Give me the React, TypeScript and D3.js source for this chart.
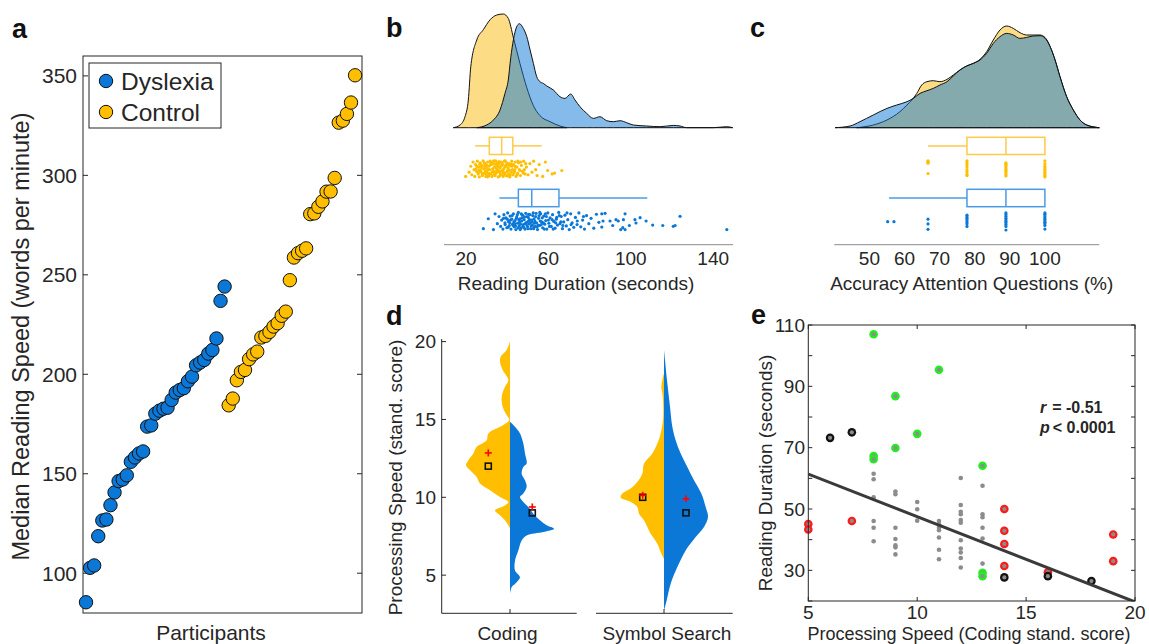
import React from 'react';
import * as d3 from 'd3';

const FONT = '"Liberation Sans", Arial, Helvetica, sans-serif';
const TXT = '#262626';
const YEL = '#FFBF00';
const BLU = '#0B78D8';
const YEL_FILL = '#FCDC85';
const YEL_BOX = '#FFC94A';
const BLU_BOX = '#4A9BE6';

// ---------- Panel a ----------
const dyslexiaSpeed = [85.4, 102.7, 103.9, 118.6, 126.5, 127, 134.2, 140.6, 146.3, 147.1, 149.2, 156, 158.2, 160.2, 161.2, 173.7, 174.3, 180.2, 181.7, 182.7, 183.2, 187.1, 190.8, 192.1, 193, 196.5, 198.8, 204.5, 205.9, 207.2, 210.4, 212.2, 218, 236.9, 244.1];
const controlSpeed = [184.4, 187.8, 197, 201.2, 202.2, 207.6, 210, 211.4, 218.5, 219.3, 221.3, 224, 225.7, 229.4, 231.5, 247.3, 258.7, 260.9, 262.1, 263.3, 280.5, 280.9, 284.2, 286.9, 291.8, 291.9, 298.7, 326.5, 327.5, 330.9, 336.6, 350.3];
const speedTicks = [100, 150, 200, 250, 300, 350];
const groupNames = ['Dyslexia', 'Control'];

// ---------- Panel b ----------
const durTicks = [20, 60, 100, 140];
const ctrlDurDensity = [[13.8, 0], [17.1, 2.7], [19.5, 11], [21.1, 27.7], [22.3, 61], [25.2, 87.7], [28.4, 98], [31.7, 108], [34.9, 112.7], [38.1, 113.7], [40.5, 109.3], [43, 90], [46.2, 64], [49.5, 40], [52.7, 22], [55.9, 12], [60.8, 6], [65.6, 1.7], [68.9, 0]];
const dysDurDensity = [[25.2, 0], [30, 2.7], [33.3, 7.7], [36.5, 17.7], [38.9, 34.3], [40.5, 47.7], [41.7, 70], [43, 88], [44.6, 101], [45.9, 104], [47.8, 99.3], [49.5, 91], [51.1, 77.7], [52.7, 64.3], [54.3, 51], [55.9, 46], [57.5, 44.3], [59.2, 41.7], [62.4, 37.7], [65.6, 31], [68.1, 29.3], [70.8, 33.7], [72.9, 27.7], [75.3, 21], [78.6, 14.3], [81.8, 9.3], [85, 11], [88.3, 7], [91.5, 6], [94.8, 7], [98, 5], [101.2, 2.7], [107.7, 1.7], [114.2, 1], [120.6, 2.3], [123.9, 1.7], [127.1, 0], [140, 0], [146.5, 1], [149.5, 0]];
// [whiskerLow, q1, median, q3, whiskerHigh]
const ctrlDurBox = [24.4, 31.3, 37.3, 42.7, 56.7];
const dysDurBox = [36.2, 45.4, 51.9, 65.1, 108];
// [value, vertical jitter -1..1]
const ctrlDurPoints = [
  [19.8, 0.9], [21.5, 0.4], [22.3, -0.3], [22.8, 0.7], [23.4, -0.8], [23.9, 0.1], [24.2, 0.9], [24.6, -0.5], [25.1, 0.3], [25.5, -0.9], [25.8, 0.6], [26.2, -0.2], [26.5, 0.95], [26.9, -0.7], [27.2, 0.2], [27.6, -0.4], [27.9, 0.8], [28.3, -0.95], [28.6, 0.0], [28.9, 0.5], [29.2, -0.6], [29.6, 0.9], [29.9, -0.1], [30.2, 0.4], [30.5, -0.8], [30.8, 0.7], [31.1, -0.3], [31.4, 0.1], [31.7, -0.9], [32.0, 0.6], [32.3, -0.5], [32.6, 0.9], [32.9, 0.0], [33.2, -0.7], [33.5, 0.3], [33.8, -0.2], [34.1, 0.8], [34.4, -0.95], [34.7, 0.5], [35.0, -0.4], [35.3, 0.1], [35.6, 0.95], [35.9, -0.6], [36.2, 0.3], [36.5, -0.1], [36.8, 0.7], [37.1, -0.8], [37.4, 0.2], [37.7, -0.5], [38.0, 0.9], [38.3, 0.0], [38.6, -0.9], [38.9, 0.5], [39.2, -0.3], [39.5, 0.8], [39.8, -0.7], [40.1, 0.2], [40.4, -0.1], [40.7, 0.6], [41.0, -0.6], [41.3, 0.95], [41.6, -0.35], [41.9, 0.4], [42.2, -0.9], [42.5, 0.1], [42.8, 0.7], [43.1, -0.5], [43.5, 0.3], [43.9, -0.8], [44.3, 0.9], [44.7, -0.2], [45.1, 0.5], [45.5, -0.7], [45.9, 0.1], [46.4, 0.8], [46.9, -0.4], [47.4, 0.3], [48.0, -0.9], [48.6, 0.6], [49.3, -0.2], [50.1, 0.7], [51.0, -0.6], [52.0, 0.4], [52.8, -0.9], [53.8, 0.1], [54.5, 0.8], [55.5, -0.5], [57.2, 0.9], [58.5, -0.8], [59.6, 0.2], [61.8, 0.6], [63.0, 0.5], [66.5, 0.2],
  [24.9, 0.0], [26.0, 0.45], [27.4, -0.15], [28.1, 0.6], [29.4, 0.25], [30.0, -0.45], [31.3, 0.55], [32.1, -0.75], [33.0, 0.35], [33.9, -0.55], [34.9, 0.15], [35.8, -0.25], [36.6, 0.5], [37.5, -0.65], [38.4, 0.65], [39.3, -0.45], [40.2, 0.85], [41.1, 0.15], [42.0, -0.55], [43.3, 0.45], [44.0, -0.25], [45.2, -0.9], [46.2, 0.2], [47.8, 0.5], [49.0, -0.6], [27.0, 0.3], [29.0, -0.3], [31.0, 0.85], [33.6, 0.65], [36.0, -0.85], [38.8, -0.2], [40.6, -0.45], [26.7, -0.55], [35.4, 0.35], [37.9, 0.25],
  [25.3, -0.3], [26.4, 0.15], [27.7, 0.5], [28.8, -0.7], [29.8, 0.6], [30.7, 0.1], [31.8, -0.5], [32.7, 0.35], [33.4, -0.95], [34.3, 0.45], [35.1, -0.7], [36.3, 0.85], [37.2, -0.35], [38.1, 0.45], [39.0, -0.95], [39.9, 0.35], [41.5, 0.7], [42.4, -0.3], [43.7, 0.1], [44.8, 0.7], [46.6, -0.8], [48.3, 0.1], [30.4, 0.95], [34.6, -0.1]
];
const dysDurPoints = [
  [28.4, 0.85], [30.8, -0.25], [33.3, 0.95], [34.1, -0.8], [35.2, 0.3], [36.0, -0.5], [36.8, 0.6], [37.3, -0.1], [37.9, 0.9], [38.4, -0.7], [38.9, 0.2], [39.3, -0.35], [39.8, 0.75], [40.2, -0.9], [40.6, 0.05], [41.0, 0.5], [41.4, -0.55], [41.8, 0.9], [42.2, -0.2], [42.6, 0.35], [43.0, -0.8], [43.4, 0.65], [43.8, -0.05], [44.2, 0.95], [44.6, -0.45], [45.0, 0.25], [45.4, -0.95], [45.8, 0.55], [46.2, -0.25], [46.6, 0.8], [47.0, 0.0], [47.4, -0.65], [47.8, 0.4], [48.2, -0.15], [48.6, 0.9], [49.0, -0.85], [49.4, 0.15], [49.8, 0.6], [50.2, -0.4], [50.6, 0.3], [51.0, -0.7], [51.4, 0.85], [51.8, -0.1], [52.2, 0.45], [52.6, -0.9], [53.0, 0.7], [53.4, 0.0], [53.8, -0.5], [54.2, 0.2], [54.7, 0.95], [55.2, -0.3], [55.7, 0.5], [56.2, -0.8], [56.7, 0.1], [57.2, 0.75], [57.7, -0.55], [58.2, 0.35], [58.7, -0.05], [59.2, 0.9], [59.7, -0.9], [60.2, 0.25], [60.8, -0.35], [61.4, 0.6], [62.0, -0.7], [62.6, 0.05], [63.2, 0.8], [63.8, -0.2], [64.4, 0.45], [65.0, -0.95], [65.6, 0.3], [66.2, -0.5], [66.8, 0.85], [67.4, 0.1], [68.0, -0.65], [68.7, 0.55], [69.4, -0.15], [70.1, 0.95], [70.8, -0.8], [71.5, 0.2], [72.3, 0.7], [73.1, -0.4], [73.9, 0.4], [74.8, -0.9], [75.7, 0.65], [76.6, -0.1], [77.5, 0.9], [78.5, -0.6], [79.6, 0.3], [80.7, -0.3], [82.0, 0.8], [83.3, -0.75], [84.5, 0.15],
  [39.0, 0.4], [40.0, -0.2], [41.2, 0.2], [42.4, -0.6], [43.2, 0.1], [44.4, -0.3], [45.2, 0.75], [46.0, 0.1], [46.8, -0.8], [47.6, 0.6], [48.4, -0.45], [49.2, 0.35], [50.0, 0.85], [50.8, -0.15], [51.6, 0.55], [52.4, -0.6], [53.2, 0.25], [54.0, -0.85], [55.0, 0.45], [56.0, 0.0], [57.0, -0.35], [58.0, 0.9], [59.0, -0.5], [60.5, 0.6], [61.8, -0.15], [63.5, 0.2], [65.3, -0.6], [67.0, 0.5], [69.0, -0.9], [71.0, 0.4], [74.0, 0.0], [77.0, -0.5], [42.9, 0.5], [44.9, -0.7], [46.4, 0.35], [48.0, 0.7], [50.4, -0.75], [52.0, 0.1], [53.6, 0.6], [55.5, -0.6], [57.5, 0.2], [40.4, 0.7], [38.2, -0.3],
  [41.6, -0.1], [43.6, 0.3], [45.6, -0.15], [47.2, -0.35], [49.6, -0.5], [51.2, 0.2], [53.0, -0.25], [54.5, 0.65], [56.5, 0.4], [58.5, -0.8], [60.0, -0.1], [62.3, 0.9], [64.0, -0.4], [66.0, 0.1], [44.0, 0.55], [46.3, 0.95], [48.8, 0.25], [50.3, 0.0], [52.8, 0.85], [55.8, -0.95],
  [85.9, -0.8], [87.5, -0.85], [86.5, 0.0], [89.9, 0.0], [92.8, -0.15], [93.9, 0.0], [91.2, 0.5], [85.9, 0.67], [95.1, 0.95], [97.2, 0.95], [96.1, 0.74], [97.2, -0.8], [96.4, -0.15], [99.3, 0.5], [102, -0.15], [102.5, 0.22], [104.5, -0.37], [107.4, 0], [110.6, 0.45], [115.5, 0.5], [120.6, 0.59], [121.5, 0.5], [123.9, -0.52], [146.6, 0.95]
];

// ---------- Panel c ----------
const accTicks = [50, 60, 70, 80, 90, 100];
const ctrlAccDensity = [[46.4, 0], [51.1, 2.7], [55, 7.7], [58.7, 16], [60.7, 22.7], [62.1, 27.7], [63.5, 34.3], [64.9, 42.7], [66.4, 46], [68.2, 47], [70.1, 46], [72.1, 48.3], [73.9, 52.7], [75.8, 57.7], [77.7, 61.7], [79.6, 64.3], [81.5, 68.3], [83.4, 76], [85.3, 87.7], [87.2, 97.7], [89.1, 101.7], [91, 99.3], [92.9, 95], [94.8, 92.7], [96.7, 92.7], [98.6, 92.7], [100.1, 90], [101.5, 81], [102.9, 67.7], [104.3, 51], [106.2, 31], [108.1, 17.7], [110, 7.7], [111.9, 2.7], [115.5, 0]];
const dysAccDensity = [[40.2, 0], [44.5, 1.7], [47.3, 6], [51.1, 12.7], [55, 19.3], [57.8, 22.7], [60.7, 26], [62.5, 29.3], [64.4, 34.3], [66.4, 37], [68.2, 39.3], [70.1, 42.7], [72.1, 46], [73.9, 51.7], [75.8, 57.7], [77.7, 61.7], [79.6, 64.3], [81.5, 67.7], [83.4, 74.3], [85.3, 84.3], [87.2, 91], [89.1, 94.3], [91, 92.7], [92.9, 89.3], [94.8, 90.3], [96.7, 91.7], [98.6, 92], [100.1, 89.3], [101.5, 81], [102.9, 67.7], [104.3, 51], [106.2, 31], [108.1, 17.7], [110, 7.7], [111.9, 2.7], [115.5, 0]];
const ctrlAccBox = [66.7, 77.8, 88.9, 100, 100];
const dysAccBox = [55.6, 77.8, 88.9, 100, 100];
const ctrlAccPoints = [
  [66.7, -0.95], [66.7, -0.85], [66.7, -0.75], [66.7, -0.65], [66.7, 0.55],
  [77.8, -0.95], [77.8, -0.7], [77.8, -0.5], [77.8, -0.2], [77.8, 0.1], [77.8, 0.35], [77.8, 0.65], [77.8, 0.8],
  [88.9, -0.7], [88.9, -0.55], [88.9, -0.4], [88.9, -0.2], [88.9, 0], [88.9, 0.15], [88.9, 0.3], [88.9, 0.5], [88.9, 0.7], [88.9, 0.85],
  [100, -0.95], [100, -0.6], [100, -0.3], [100, -0.1], [100, 0.1], [100, 0.25], [100, 0.45], [100, 0.6], [100, 0.8], [100, 0.95]
];
const dysAccPoints = [
  [55.2, 0.08], [57.0, 0.08],
  [66.7, -0.2], [66.7, 0.33], [66.7, 0.92],
  [77.8, -0.65], [77.8, -0.45], [77.8, -0.3], [77.8, -0.1], [77.8, 0.1], [77.8, 0.3], [77.8, 0.6],
  [88.9, -0.9], [88.9, -0.7], [88.9, -0.5], [88.9, -0.3], [88.9, -0.1], [88.9, 0.05], [88.9, 0.2], [88.9, 0.4], [88.9, 0.6], [88.9, 1.0],
  [100, -0.9], [100, -0.75], [100, -0.55], [100, -0.35], [100, -0.2], [100, 0], [100, 0.15], [100, 0.3], [100, 0.5], [100, 0.9]
];

// ---------- Panel d ----------
const psTicks = [5, 10, 15, 20];
const psTests = ['Coding', 'Symbol Search'];
const codingCtrlViolin = [[20.0, 0], [19.46, 10], [19.03, 28], [18.71, 30], [18.18, 22], [17.53, 5], [17.1, 15], [16.46, 25], [15.82, 22], [15.28, 10], [14.96, 2], [14.64, 20], [14.1, 65], [13.67, 70], [13.24, 100], [12.81, 110], [12.38, 125], [12.06, 132], [11.74, 120], [11.31, 100], [10.88, 90], [10.45, 60], [10.02, 30], [9.7, 5], [9.48, 15], [9.16, 45], [8.84, 30], [8.52, 15], [8.09, 2], [7.98, 0]];
const codingDysViolin = [[14.85, 0], [14.53, 15], [14.1, 30], [13.45, 40], [12.81, 45], [12.17, 50], [11.95, 40], [11.52, 35], [11.09, 45], [10.67, 50], [10.24, 40], [10.02, 30], [9.7, 40], [9.38, 55], [8.95, 70], [8.52, 90], [8.2, 110], [7.98, 132], [7.77, 100], [7.55, 50], [7.23, 35], [6.59, 25], [5.94, 15], [5.3, 15], [4.87, 30], [4.55, 20], [4.23, 5], [3.8, 0]];
const symbolCtrlViolin = [[17.96, 0], [17.53, 5], [17.1, 8], [16.67, 5], [16.24, 3], [15.6, 2], [14.96, 3], [14.1, 10], [13.45, 20], [12.81, 35], [12.17, 60], [11.52, 65], [10.99, 80], [10.56, 100], [10.24, 125], [9.98, 130], [9.7, 100], [9.38, 80], [8.95, 75], [8.52, 60], [8.09, 50], [7.66, 40], [7.02, 20], [6.37, 8], [6.05, 0]];
const symbolDysViolin = [[19.46, 0], [18.82, 3], [17.32, 10], [15.82, 18], [14.53, 25], [13.67, 35], [12.81, 50], [11.95, 70], [11.09, 90], [10.24, 112], [9.38, 125], [8.73, 132], [8.09, 120], [7.45, 95], [6.59, 65], [5.52, 40], [4.44, 20], [3.37, 8], [2.73, 0]];
// [mean, median]
const codingCtrlStats = [12.85, 12];
const codingDysStats = [9.38, 9];
const symbolCtrlStats = [10.13, 10];
const symbolDysStats = [9.9, 9];

// ---------- Panel e ----------
const grayPoints = [
  [8, 61.5], [8, 59.7], [8, 53.8], [8, 46.1], [8, 43.9], [8, 39.5],
  [9, 55.7], [9, 54.8], [9, 43.9], [9, 40.2], [9, 38.2], [9, 37.5], [9, 35.2],
  [10, 52.3], [10, 49.9], [10, 46.2],
  [11, 46.1], [11, 45], [11, 43.9], [11, 43.1], [11, 40.7], [11, 36.7], [11, 33.6],
  [12, 60.1], [12, 51.3], [12, 49.1], [12, 48.3], [12, 46.4], [12, 45.5], [12, 39.8], [12, 37.1], [12, 35.8], [12, 34], [12, 30.9],
  [13, 57.6], [13, 48.3], [13, 47.3], [13, 43.9], [13, 40.4], [13, 32.2]
];
const greenPoints = [[8, 107], [11, 95.4], [9, 86.8], [10, 74.5], [9, 69.9], [8, 67.3], [8, 66.2], [13, 64.1], [13, 29.2], [13, 28.1]];
const redPoints = [[5, 45.1], [5, 43.3], [7, 46.1], [14, 50], [14, 42.9], [14, 38.6], [14, 31.4], [16, 29.4], [19, 41.7], [19, 33]];
const blackPoints = [[6, 73.2], [7, 75], [14, 27.7], [16, 28.1], [18, 26.5]];
const fitLine = { intercept5: 61.4, slope: -2.78 };
const eXTicks = [5, 10, 15, 20];
const eYTicks = [20, 30, 40, 50, 60, 70, 80, 90, 100, 110];
const eYLabels = [30, 50, 70, 90, 110];

function PanelA() {
  const x = d3.scaleLinear().domain([-0.74, 67.7]).range([83, 362]);
  const y = d3.scaleLinear().domain([80, 360]).range([613, 56]);
  const pts = [
    ...dyslexiaSpeed.map((v, i) => ({ i, v, c: BLU })),
    ...controlSpeed.map((v, k) => ({ i: dyslexiaSpeed.length + k, v, c: YEL })),
  ];
  const [x0, x1] = x.range();
  const [y0, y1] = y.range();
  return (
    <g>
      <rect x={x0} y={y1} width={x1 - x0} height={y0 - y1} fill="none" stroke={TXT} strokeWidth={1} />
      {speedTicks.map(t => (
        <g key={t}>
          <line x1={x0} x2={x0 + 5} y1={y(t)} y2={y(t)} stroke={TXT} />
          <line x1={x1} x2={x1 - 5} y1={y(t)} y2={y(t)} stroke={TXT} />
          <text x={x0 - 6} y={y(t)} dy="0.35em" textAnchor="end" fontSize={21} fill={TXT}>{t}</text>
        </g>
      ))}
      {pts.map((p, k) => (
        <circle key={k} cx={x(p.i)} cy={y(p.v)} r={6.7} fill={p.c} stroke="#111" strokeWidth={1} />
      ))}
      <rect x={89} y={63} width={132} height={65} fill="#fff" stroke={TXT} strokeWidth={1} />
      {groupNames.map((g, k) => (
        <g key={g}>
          <circle cx={106} cy={81 + k * 31} r={6.7} fill={k === 0 ? BLU : YEL} stroke="#111" strokeWidth={1} />
          <text x={121} y={90 + k * 31} fontSize={24.5} fill={TXT}>{g}</text>
        </g>
      ))}
      <text x={211} y={640} textAnchor="middle" fontSize={21} fill={TXT}>Participants</text>
      <text transform="translate(29,336.5) rotate(-90)" textAnchor="middle" fontSize={23.5} fill={TXT}>Median Reading Speed (words per minute)</text>
    </g>
  );
}

function BoxPlot({ xs, box, yTop, yBot, color }) {
  const [wl, q1, med, q3, wh] = box;
  const yc = (yTop + yBot) / 2;
  return (
    <g stroke={color} strokeWidth={1.5} fill="none">
      {wl < q1 && <line x1={xs(wl)} x2={xs(q1)} y1={yc} y2={yc} />}
      {wh > q3 && <line x1={xs(q3)} x2={xs(wh)} y1={yc} y2={yc} />}
      <rect x={xs(q1)} y={yTop} width={xs(q3) - xs(q1)} height={yBot - yTop} />
      <line x1={xs(med)} x2={xs(med)} y1={yTop} y2={yBot} />
    </g>
  );
}

function Raincloud({ domain, range, ticks, ctrlDens, dysDens, ctrlBox, dysBox, ctrlPts, dysPts, title, titleX }) {
  const xs = d3.scaleLinear().domain(domain).range(range);
  const ys = d3.scaleLinear().domain([0, 114]).range([127.7, 13.7]);
  const base = ys(0);
  const area = d3.area().x(d => xs(d[0])).y0(base).y1(d => ys(d[1])).curve(d3.curveMonotoneX);
  return (
    <g>
      <path d={area(ctrlDens)} fill={YEL_FILL} stroke="#111" strokeWidth={1} />
      <path d={area(dysDens)} fill={BLU} fillOpacity={0.5} stroke="#111" strokeWidth={1} />
      <BoxPlot xs={xs} box={ctrlBox} yTop={137.3} yBot={154.5} color={YEL_BOX} />
      <BoxPlot xs={xs} box={dysBox} yTop={189.3} yBot={206.7} color={BLU_BOX} />
      {ctrlPts.map((p, k) => <circle key={'c' + k} cx={xs(p[0])} cy={168.8 + p[1] * 8.5} r={1.6} fill={YEL} />)}
      {dysPts.map((p, k) => <circle key={'d' + k} cx={xs(p[0])} cy={221 + p[1] * 9} r={1.6} fill={BLU} />)}
      <line x1={range[0]} x2={range[1]} y1={244.7} y2={244.7} stroke="#8a8a8a" strokeWidth={1} />
      {ticks.map(t => (
        <text key={t} x={xs(t)} y={265} textAnchor="middle" fontSize={19} fill={TXT}>{t}</text>
      ))}
      <text x={titleX} y={290} textAnchor="middle" fontSize={19} fill={TXT}>{title}</text>
    </g>
  );
}

function Violin({ data, center, side, yD, wD, color }) {
  const area = d3.area()
    .y(d => yD(d[0]))
    .x0(center)
    .x1(d => center + side * wD(d[1]))
    .curve(d3.curveCatmullRom.alpha(0.5));
  return <path d={area(data)} fill={color} stroke="none" />;
}

function StatMarks({ stats, x, yD }) {
  const [mean, med] = stats;
  return (
    <g>
      <rect x={x - 3} y={yD(med) - 3} width={6} height={6} fill="none" stroke="#111" strokeWidth={1.6} />
      <line x1={x - 3.5} x2={x + 3.5} y1={yD(mean)} y2={yD(mean)} stroke="#FF0000" strokeWidth={1.6} />
      <line x1={x} x2={x} y1={yD(mean) - 3.5} y2={yD(mean) + 3.5} stroke="#FF0000" strokeWidth={1.6} />
    </g>
  );
}

function PanelD() {
  const yD = d3.scaleLinear().domain([2.55, 20]).range([613.3, 341.6]);
  const wD = d3.scaleLinear().domain([0, 132]).range([0, 44]);
  const xCenters = d3.scaleOrdinal().domain(psTests).range([510, 664]);
  const c1 = xCenters('Coding');
  const c2 = xCenters('Symbol Search');
  return (
    <g>
      <Violin data={codingCtrlViolin} center={c1} side={-1} yD={yD} wD={wD} color={YEL} />
      <Violin data={codingDysViolin} center={c1} side={1} yD={yD} wD={wD} color={BLU} />
      <Violin data={symbolCtrlViolin} center={c2} side={-1} yD={yD} wD={wD} color={YEL} />
      <Violin data={symbolDysViolin} center={c2} side={1} yD={yD} wD={wD} color={BLU} />
      <StatMarks stats={codingCtrlStats} x={c1 - 21.7} yD={yD} />
      <StatMarks stats={codingDysStats} x={c1 + 22.3} yD={yD} />
      <StatMarks stats={symbolCtrlStats} x={c2 - 21.3} yD={yD} />
      <StatMarks stats={symbolDysStats} x={c2 + 22} yD={yD} />
      <line x1={441.7} x2={441.7} y1={339} y2={613.3} stroke={TXT} strokeWidth={1} />
      <line x1={441.7} x2={576.7} y1={613.3} y2={613.3} stroke={TXT} strokeWidth={1} />
      <line x1={596} x2={732.7} y1={613.3} y2={613.3} stroke={TXT} strokeWidth={1} />
      <line x1={c1} x2={c1} y1={613.3} y2={609} stroke={TXT} />
      <line x1={c2} x2={c2} y1={613.3} y2={609} stroke={TXT} />
      {psTicks.map(t => (
        <g key={t}>
          <line x1={441.7} x2={446} y1={yD(t)} y2={yD(t)} stroke={TXT} />
          <text x={436} y={yD(t)} dy="0.35em" textAnchor="end" fontSize={19} fill={TXT}>{t}</text>
        </g>
      ))}
      <text x={507.5} y={640} textAnchor="middle" fontSize={19} fill={TXT}>{psTests[0]}</text>
      <text x={667} y={640} textAnchor="middle" fontSize={19} fill={TXT}>{psTests[1]}</text>
      <text transform="translate(402,477.5) rotate(-90)" textAnchor="middle" fontSize={19} fill={TXT}>Processing Speed (stand. score)</text>
    </g>
  );
}

function PanelE() {
  const xE = d3.scaleLinear().domain([5, 20]).range([808.3, 1135]);
  const yE = d3.scaleLinear().domain([20, 110]).range([601, 325]);
  const [x0, x1] = xE.range();
  const [y0, y1] = yE.range();
  const fitY = (x: number) => fitLine.intercept5 + fitLine.slope * (x - 5);
  const ring = (pts, color, key) => pts.map((p, k) => (
    <g key={key + k}>
      <circle cx={xE(p[0])} cy={yE(p[1])} r={4.3} fill={color} />
      <circle cx={xE(p[0])} cy={yE(p[1])} r={2.1} fill="#8c8c8c" />
    </g>
  ));
  return (
    <g>
      <defs>
        <clipPath id="eclip"><rect x={x0} y={y1} width={x1 - x0} height={y0 - y1} /></clipPath>
      </defs>
      {grayPoints.map((p, k) => <circle key={'g' + k} cx={xE(p[0])} cy={yE(p[1])} r={2.3} fill="#8c8c8c" />)}
      {ring(greenPoints, '#22EE22', 'gr')}
      {ring(redPoints, '#FF1A1A', 'rd')}
      {ring(blackPoints, '#111111', 'bk')}
      <line clipPath="url(#eclip)" x1={xE(5)} y1={yE(fitY(5))} x2={xE(20)} y2={yE(fitY(20))} stroke="#3a3a3a" strokeWidth={3} />
      <rect x={x0} y={y1} width={x1 - x0} height={y0 - y1} fill="none" stroke={TXT} strokeWidth={1} />
      {eYTicks.map(t => (
        <g key={t}>
          <line x1={x0} x2={x0 + 4} y1={yE(t)} y2={yE(t)} stroke={TXT} />
          <line x1={x1} x2={x1 - 4} y1={yE(t)} y2={yE(t)} stroke={TXT} />
        </g>
      ))}
      {eYLabels.map(t => (
        <text key={t} x={805} y={yE(t)} dy="0.35em" textAnchor="end" fontSize={19} fill={TXT}>{t}</text>
      ))}
      {eXTicks.map(t => (
        <g key={t}>
          <line x1={xE(t)} x2={xE(t)} y1={y0} y2={y0 - 4} stroke={TXT} />
          <line x1={xE(t)} x2={xE(t)} y1={y1} y2={y1 + 4} stroke={TXT} />
          <text x={xE(t)} y={619} textAnchor="middle" fontSize={19} fill={TXT}>{t}</text>
        </g>
      ))}
      <text x={1040} y={413} fontSize={16} fontWeight="bold" fill={TXT}>
        <tspan fontStyle="italic">r</tspan><tspan dx={6}>= -0.51</tspan>
      </text>
      <text x={1040} y={433} fontSize={16} fontWeight="bold" fill={TXT}>
        <tspan fontStyle="italic">p</tspan><tspan dx={3}>{'< 0.0001'}</tspan>
      </text>
      <text x={969} y={640} textAnchor="middle" fontSize={18} fill={TXT}>Processing Speed (Coding stand. score)</text>
      <text transform="translate(772,473) rotate(-90)" textAnchor="middle" fontSize={19} fill={TXT}>Reading Duration (seconds)</text>
    </g>
  );
}

export default function App() {
  return (
    <div style={{ position: 'absolute', left: 0, top: 0 }}>
      <svg width={1149} height={644} viewBox="0 0 1149 644" style={{ display: 'block', background: '#fff', fontFamily: FONT }}>
        <rect width={1149} height={644} fill="#fff" />
        <PanelA />
        <Raincloud domain={[9.3, 149.6]} range={[444, 733]} ticks={durTicks}
          ctrlDens={ctrlDurDensity} dysDens={dysDurDensity} ctrlBox={ctrlDurBox} dysBox={dysDurBox}
          ctrlPts={ctrlDurPoints} dysPts={dysDurPoints} title="Reading Duration (seconds)" titleX={576} />
        <Raincloud domain={[40, 115.5]} range={[834.3, 1099.3]} ticks={accTicks}
          ctrlDens={ctrlAccDensity} dysDens={dysAccDensity} ctrlBox={ctrlAccBox} dysBox={dysAccBox}
          ctrlPts={ctrlAccPoints} dysPts={dysAccPoints} title="Accuracy Attention Questions (%)" titleX={971.7} />
        <PanelD />
        <PanelE />
        <g fontWeight="bold" fontSize={27} fill="#111">
          <text x={12} y={38}>a</text>
          <text x={386} y={37}>b</text>
          <text x={750} y={37}>c</text>
          <text x={386} y={325}>d</text>
          <text x={751} y={324}>e</text>
        </g>
      </svg>
    </div>
  );
}
